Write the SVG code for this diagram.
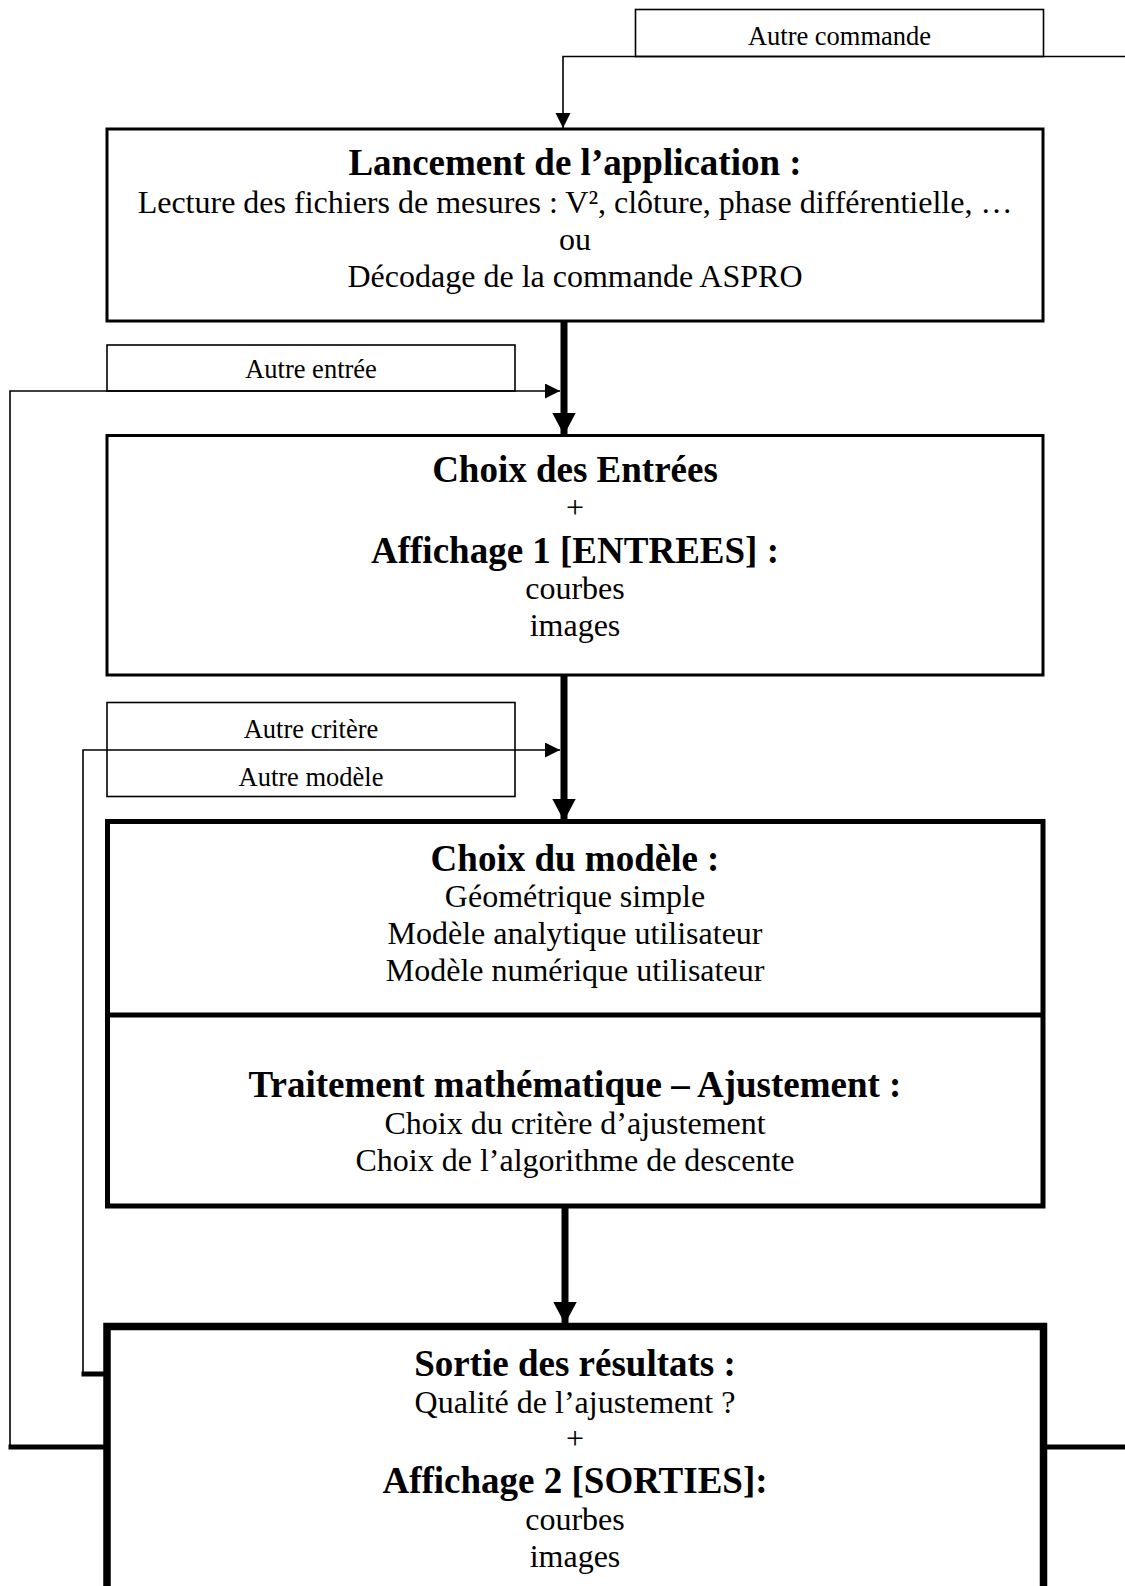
<svg xmlns="http://www.w3.org/2000/svg" width="1125" height="1586" viewBox="0 0 1125 1586">
<style>
text{font-family:"Liberation Serif","Times New Roman",serif;fill:#000;text-anchor:middle}
.h{font-size:37px;font-weight:bold}
.b{font-size:32px}
.l{font-size:26.5px}
.box{fill:#fff;stroke:#000}
.thin{fill:none;stroke:#000;stroke-width:1.6}
.thick{fill:none;stroke:#000;stroke-width:7}
.stub{fill:none;stroke:#000;stroke-width:5}
</style>
<defs>
<marker id="ah" markerUnits="userSpaceOnUse" markerWidth="16" markerHeight="16" refX="15" refY="7.5" orient="auto">
<path d="M0,0 L15,7.5 L0,15 Z" fill="#000"/>
</marker>
<marker id="ahb" markerUnits="userSpaceOnUse" markerWidth="24" markerHeight="24" refX="22" refY="11.7" orient="auto">
<path d="M0,0 L22,11.7 L0,23.4 Z" fill="#000"/>
</marker>
</defs>
<rect width="1125" height="1586" fill="#fff"/>

<g id="label-autre-commande">
<rect class="box" x="635.5" y="9.5" width="408" height="47" stroke-width="1.6"/>
<text class="l" x="839.5" y="45">Autre commande</text>
</g>

<g id="node-lancement">
<rect class="box" x="107" y="129" width="936" height="192" stroke-width="3"/>
<text class="h" x="575" y="175">Lancement de l’application :</text>
<text class="b" x="575" y="213">Lecture des fichiers de mesures : V², clôture, phase différentielle, …</text>
<text class="b" x="575" y="250">ou</text>
<text class="b" x="575" y="287">Décodage de la commande ASPRO</text>
</g>

<g id="label-autre-entree">
<rect class="box" x="107" y="345" width="408" height="46" stroke-width="1.6"/>
<text class="l" x="311" y="378">Autre entrée</text>
</g>

<g id="node-entrees">
<rect class="box" x="107" y="435.5" width="936" height="239.5" stroke-width="3"/>
<text class="h" x="575" y="482">Choix des Entrées</text>
<text class="b" x="575" y="518">+</text>
<text class="h" x="575" y="563">Affichage 1 [ENTREES] :</text>
<text class="b" x="575" y="599">courbes</text>
<text class="b" x="575" y="636">images</text>
</g>

<g id="label-autre-critere-modele">
<rect class="box" x="107" y="702.5" width="408" height="94" stroke-width="1.6"/>
<text class="l" x="311" y="737.5">Autre critère</text>
<text class="l" x="311" y="786">Autre modèle</text>
</g>

<g id="node-modele-traitement">
<rect class="box" x="107.5" y="821.5" width="935.5" height="384.5" stroke-width="5"/>
<line x1="107.5" y1="1015" x2="1043" y2="1015" stroke="#000" stroke-width="5"/>
<text class="h" x="575" y="871">Choix du modèle :</text>
<text class="b" x="575" y="907">Géométrique simple</text>
<text class="b" x="575" y="944">Modèle analytique utilisateur</text>
<text class="b" x="575" y="981">Modèle numérique utilisateur</text>
<text class="h" x="575" y="1097">Traitement mathématique – Ajustement :</text>
<text class="b" x="575" y="1134">Choix du critère d’ajustement</text>
<text class="b" x="575" y="1171">Choix de l’algorithme de descente</text>
</g>

<g id="node-sortie">
<rect class="box" x="107" y="1326.5" width="936.5" height="300" stroke-width="7.5"/>
<text class="h" x="575" y="1376">Sortie des résultats :</text>
<text class="b" x="575" y="1413">Qualité de l’ajustement ?</text>
<text class="b" x="575" y="1449">+</text>
<text class="h" x="575" y="1493">Affichage 2 [SORTIES]:</text>
<text class="b" x="575" y="1530">courbes</text>
<text class="b" x="575" y="1567">images</text>
</g>

<g id="connectors">
<path class="thin" d="M1125,56.5 H563 V128" marker-end="url(#ah)"/>
<path class="thick" d="M564,321 V435" marker-end="url(#ahb)"/>
<path class="thick" d="M564,675 V821" marker-end="url(#ahb)"/>
<path class="thick" d="M565,1206 V1324" marker-end="url(#ahb)"/>
<path class="thin" d="M10,1447 V391 H560" marker-end="url(#ah)"/>
<path class="thin" d="M83,1374 V750 H560" marker-end="url(#ah)"/>
<path class="stub" d="M8.5,1447 H105"/>
<path class="stub" d="M81.5,1374 H105"/>
<path class="stub" d="M1046,1447 H1125"/>
</g>
</svg>
